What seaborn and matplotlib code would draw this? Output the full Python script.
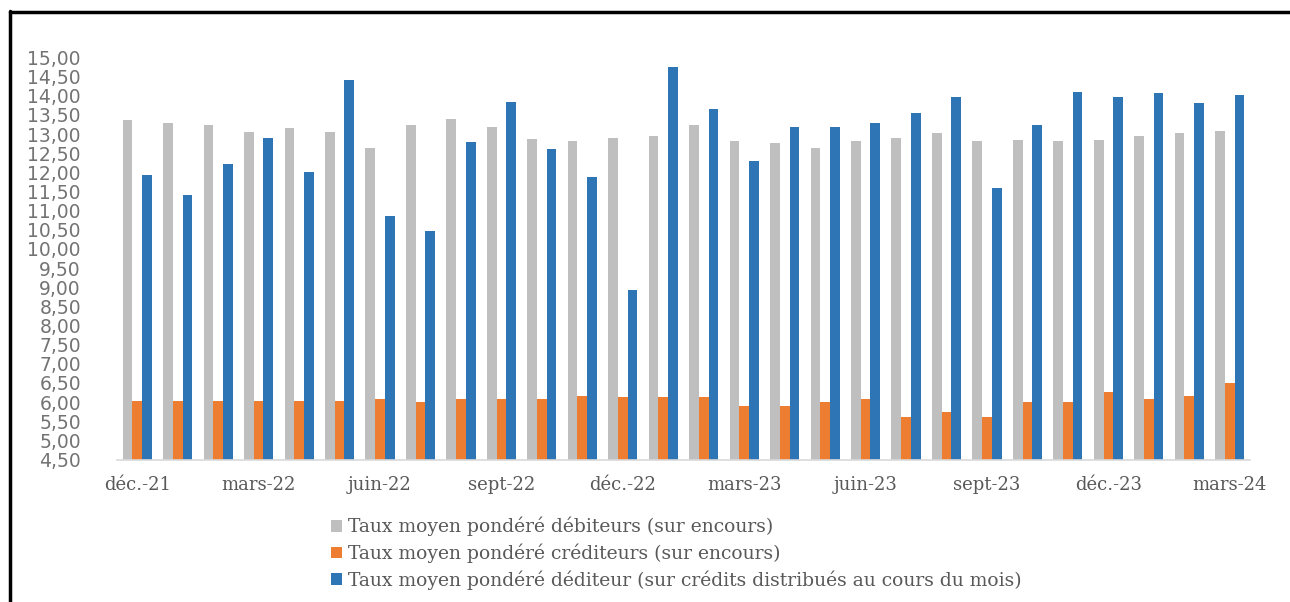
import matplotlib
matplotlib.use("Agg")
import matplotlib.pyplot as plt
import seaborn as sns
import pandas as pd
from matplotlib.lines import Line2D
from matplotlib.patches import Patch

months = ['déc.-21', 'janv.-22', 'févr.-22', 'mars-22', 'avr.-22', 'mai-22', 'juin-22',
          'juil.-22', 'août-22', 'sept-22', 'oct.-22', 'nov.-22', 'déc.-22', 'janv.-23',
          'févr.-23', 'mars-23', 'avr.-23', 'mai-23', 'juin-23', 'juil.-23', 'août-23',
          'sept-23', 'oct.-23', 'nov.-23', 'déc.-23', 'janv.-24', 'févr.-24', 'mars-24']

debiteurs = [13.37, 13.28, 13.24, 13.06, 13.15, 13.06, 12.64, 13.24, 13.40, 13.19,
             12.86, 12.81, 12.90, 12.94, 13.24, 12.81, 12.77, 12.64, 12.81, 12.90,
             13.03, 12.81, 12.85, 12.81, 12.85, 12.94, 13.03, 13.07]
crediteurs = [6.03, 6.03, 6.03, 6.03, 6.03, 6.03, 6.07, 5.99, 6.08, 6.08,
              6.08, 6.16, 6.12, 6.12, 6.12, 5.90, 5.90, 5.99, 6.08, 5.61,
              5.74, 5.61, 5.99, 5.99, 6.25, 6.08, 6.16, 6.51]
distribues = [11.92, 11.41, 12.23, 12.91, 12.00, 14.40, 10.85, 10.48, 12.78, 13.85,
              12.60, 11.88, 8.93, 14.74, 13.66, 12.30, 13.19, 13.19, 13.29, 13.54,
              13.97, 11.58, 13.24, 14.10, 13.97, 14.06, 13.80, 14.01]

series_names = ['Taux moyen pondéré débiteurs (sur encours)',
                'Taux moyen pondéré créditeurs (sur encours)',
                'Taux moyen pondéré déditeur (sur crédits distribués au cours du mois)']
colors = ['#BFBFBF', '#ED7D31', '#2E75B6']

yticks = [4.5 + 0.5 * i for i in range(22)]
ytick_labels = [f"{v:.2f}".replace('.', ',') for v in yticks]

rows = []
for name, vals in zip(series_names, [debiteurs, crediteurs, distribues]):
    for m, v in zip(months, vals):
        rows.append({'mois': m, 'serie': name, 'valeur': v})
df = pd.DataFrame(rows)

sns.set_theme(style="white")
fig = plt.figure(figsize=(12.9, 6.02), dpi=100)
ax = fig.add_axes([117/1290, 1 - 459.5/602, (1250-117)/1290, (459.5-57.5)/602])

sns.barplot(data=df, x='mois', y='valeur', hue='serie', order=months,
            hue_order=series_names, palette=colors, width=0.72, saturation=1,
            ax=ax, legend=False, linewidth=0)

ax.set_ylim(4.5, 15.0)
ax.set_xlim(-0.5, len(months) - 0.5)
ax.set_yticks(yticks)
ax.set_yticklabels(ytick_labels, fontfamily='DejaVu Sans', fontsize=13.5, color='#737373')
ax.set_xticks(range(0, len(months), 3))
ax.set_xticklabels(months[::3], fontfamily='DejaVu Serif', fontsize=13, color='#595959')
ax.tick_params(axis='y', length=0, pad=26)
ax.tick_params(axis='x', length=0, pad=12)
ax.set_xlabel('')
ax.set_ylabel('')
for s in ['top', 'right', 'left']:
    ax.spines[s].set_visible(False)
ax.spines['bottom'].set_color('#D9D9D9')
ax.spines['bottom'].set_linewidth(1.2)
ax.grid(False)

handles = [Patch(facecolor=c, edgecolor='none') for c in colors]
leg = fig.legend(handles, series_names, loc='upper left',
                 bbox_to_anchor=(331/1290, 1 - 517/602), frameon=False,
                 handlelength=0.6, handleheight=0.6, handletextpad=0.3,
                 labelspacing=0.38, borderpad=0, borderaxespad=0,
                 prop={'family': 'DejaVu Serif', 'size': 13.5})
for t in leg.get_texts():
    t.set_color('#595959')

# cropped frame (left and top borders)
fig.add_artist(Line2D([10/1290, 10/1290], [0, 1 - 11/602], transform=fig.transFigure,
                      color='black', linewidth=2.5))
fig.add_artist(Line2D([10/1290, 1], [1 - 12/602, 1 - 12/602], transform=fig.transFigure,
                      color='black', linewidth=2.5))

fig.savefig('out.png', dpi=100)
